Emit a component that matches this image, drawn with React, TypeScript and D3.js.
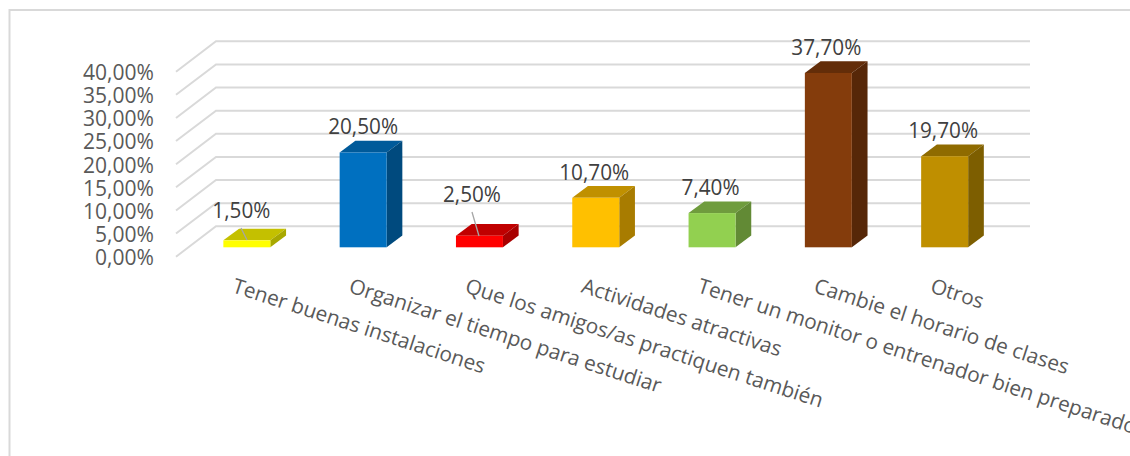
import React from 'react';
import * as d3 from 'd3';

const categories = ['Tener buenas instalaciones','Organizar el tiempo para estudiar','Que los amigos/as practiquen también','Actividades atractivas','Tener un monitor o entrenador bien preparado','Cambie el horario de clases','Otros'];
const values = [1.5,20.5,2.5,10.7,7.4,37.7,19.7];
const valueLabels = ['1,50%','20,50%','2,50%','10,70%','7,40%','37,70%','19,70%'];
const frontColors = ['#FFFF00','#0070C0','#FF0000','#FFC000','#92D050','#843C0C','#BF8F00'];
const topColors = ['#C4C000','#005A9A','#C00000','#C09000','#6F9C3D','#632D09','#8F6B00'];
const sideColors = ['#A8A800','#004A7E','#A80000','#A87C00','#628A35','#562708','#7D5E00'];
const axisTicks = [0,5,10,15,20,25,30,35,40];
const tickLabels = ['0,00%','5,00%','10,00%','15,00%','20,00%','25,00%','30,00%','35,00%','40,00%'];
const labelShiftX = [-5.5,0,-7.5,-1.5,-1.5,-2,-1.5];
const labelShiftY = [-4,0,-15.7,0,0,0,0];
const leaders: ([number, number, number, number] | null)[] = [[241,228,247,240],null,[472,212,479,236],null,null,null,null];

const FONT = '"Open Sans", sans-serif';
const W = 1130, H = 456;
const wallDX = 40, wallDY = 30.4;
const barDX = 15.7, barDY = 11.7;
const floorFrontY = 256.7;
const barBaseY = 247.3;
const height = d3.scaleLinear().domain([0,40]).range([0,185]);
const x = d3.scaleBand<string>().domain(categories).range([188.7,1002.8]).paddingInner(0.596).paddingOuter(0.298);

export default function App() {
  const bw = x.bandwidth();
  return (
    <svg width={W} height={H} viewBox={`0 0 ${W} ${H}`} style={{position:'absolute',left:0,top:0,background:'#fff'}} fontFamily={FONT}>
      <path d={`M9.5 ${H}V10H${W}`} fill="none" stroke="#d9d9d9" strokeWidth={2}/>
      {axisTicks.map((t,i)=>{
        const yf = floorFrontY-height(t);
        return <g key={t}>
          <path d={`M176 ${yf}L${176+wallDX} ${yf-wallDY}H1030`} fill="none" stroke="#d9d9d9" strokeWidth={2}/>
          <text x={154} y={yf+8.3} textAnchor="end" fontSize={21} fill="#595959" textLength={tickLabels[i].length===6?71:59} lengthAdjust="spacingAndGlyphs">{tickLabels[i]}</text>
        </g>;
      })}
      {categories.map((c,i)=>{
        const x0 = x(c)!;
        const x1 = x0+bw;
        const top = barBaseY-height(values[i]);
        const L = leaders[i];
        return <g key={c}>
          <path d={`M${x0} ${top}L${x0+barDX} ${top-barDY}H${x1+barDX}L${x1} ${top}Z`} fill={topColors[i]}/>
          <path d={`M${x1} ${top}L${x1+barDX} ${top-barDY}V${barBaseY-barDY}L${x1} ${barBaseY}Z`} fill={sideColors[i]}/>
          <rect x={x0} y={top} width={bw} height={barBaseY-top} fill={frontColors[i]}/>
          {L && <line x1={L[0]} y1={L[1]} x2={L[2]} y2={L[3]} stroke="#a6a6a6" strokeWidth={1.3}/>}
          <text x={x0+bw/2+labelShiftX[i]} y={top-18+labelShiftY[i]} textAnchor="middle" fontSize={21} fill="#404040" textLength={valueLabels[i].length===6?70:58} lengthAdjust="spacingAndGlyphs">{valueLabels[i]}</text>
          <text transform={`translate(${x0+8},${292}) rotate(18)`} fontSize={20.8} fill="#595959">{c}</text>
        </g>;
      })}
    </svg>
  );
}
